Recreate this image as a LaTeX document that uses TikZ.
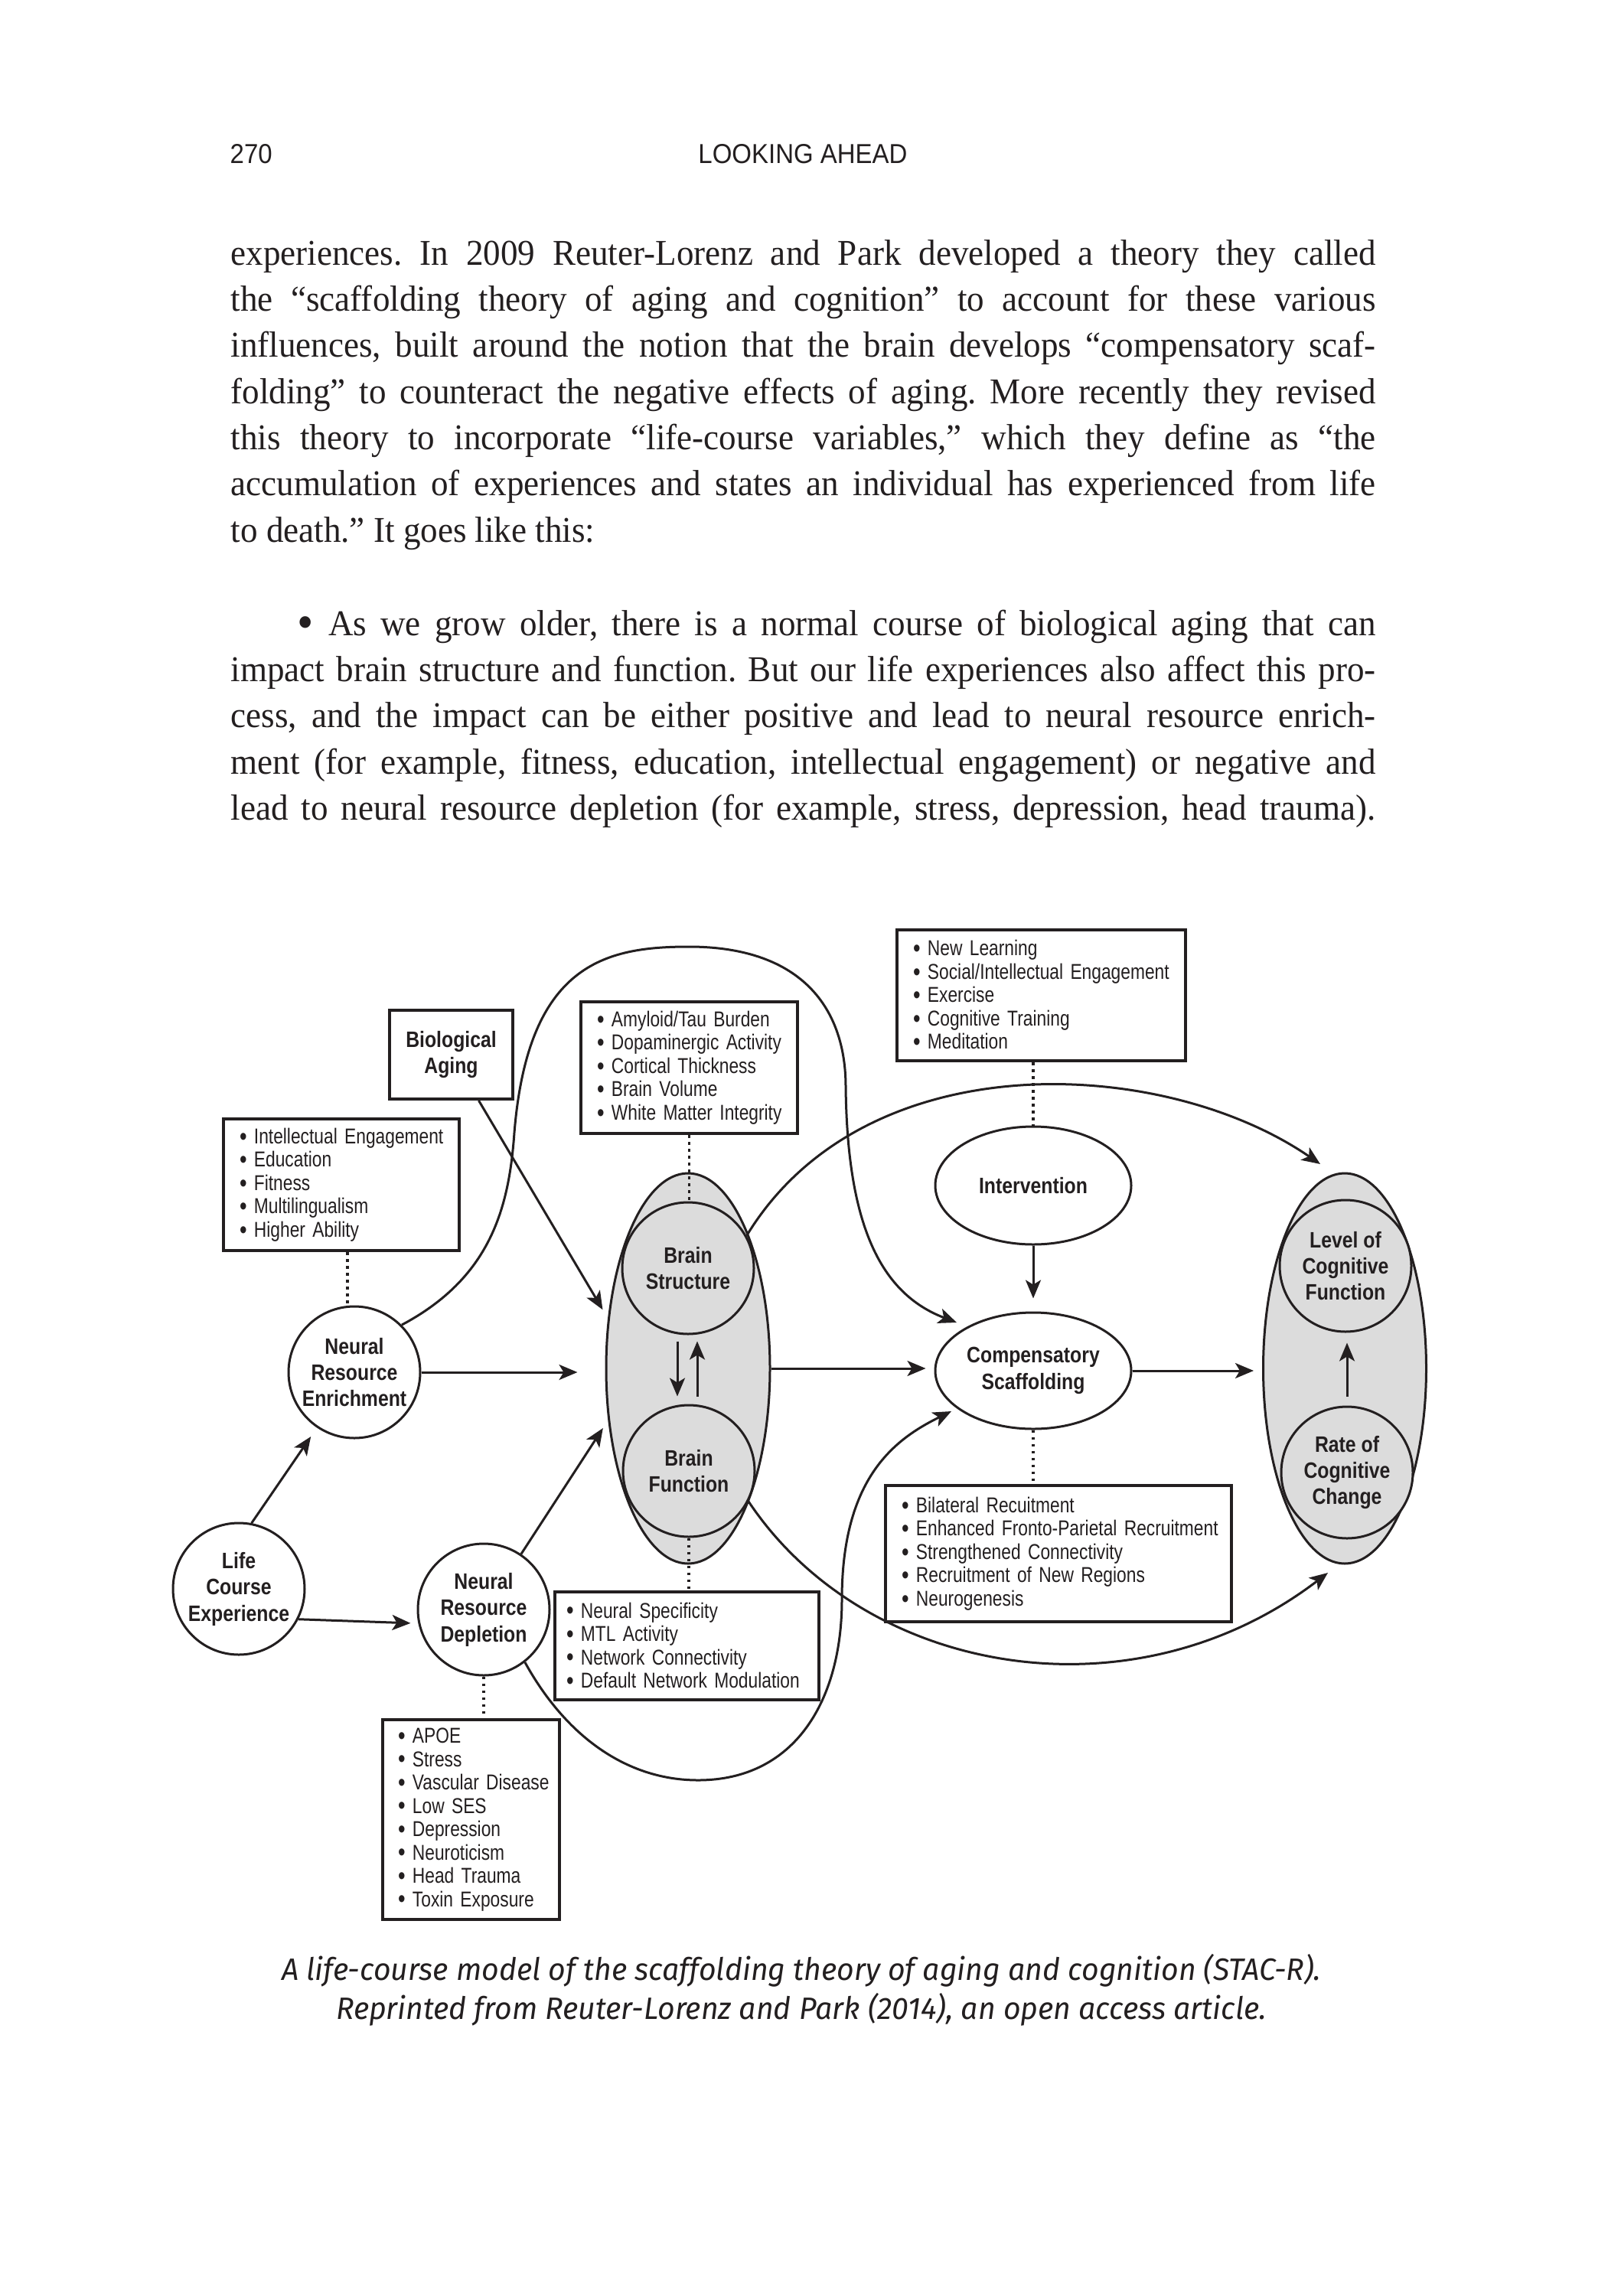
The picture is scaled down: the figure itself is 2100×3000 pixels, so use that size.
\documentclass[tikz,border=0pt]{standalone}
\usepackage{fontspec}
\setmainfont{Liberation Serif}
\newfontfamily\bodyfont[FakeStretch=0.95]{Liberation Serif}
\newfontfamily\condfont[FakeStretch=0.81]{Liberation Sans}
\newfontfamily\boldcond[FakeStretch=0.85]{Liberation Sans}
\newfontfamily\headfont[FakeStretch=0.92]{Liberation Sans}
\newfontfamily\capfont[FakeStretch=0.97]{Fira Sans}
\usetikzlibrary{shapes.geometric,arrows.meta,calc}
\definecolor{ink}{RGB}{35,31,32}
\definecolor{shade}{RGB}{220,220,220}
\newcommand\lsitem[1]{\mbox{\raisebox{-0.12ex}{\scalebox{1.2}{•}}\ #1}}
\frenchspacing
\begin{document}
\begin{tikzpicture}[x=0.1mm,y=-0.1mm,
  txt/.style={inner sep=0pt, text=ink},
  body/.style={txt, anchor=base west, font=\bodyfont\fontsize{13.5}{16}\selectfont},
  circ/.style={circle, draw=ink, line width=0.3mm, minimum size=17.2mm, inner sep=0pt,
     align=center, text=ink, font=\boldcond\bfseries\fontsize{8.3}{9.8}\selectfont},
  oval/.style={ellipse, draw=ink, line width=0.3mm, inner sep=0pt,
     align=center, text=ink, font=\boldcond\bfseries\fontsize{8.3}{9.8}\selectfont},
  listbox/.style={rectangle, draw=ink, line width=0.4mm, inner xsep=2.1mm, inner ysep=0pt,
     align=left, text=ink, fill=white, font=\condfont\fontsize{8}{8.68}\selectfont},
  titlebox/.style={rectangle, draw=ink, line width=0.4mm, inner sep=0pt,
     align=center, text=ink, font=\boldcond\bfseries\fontsize{8.3}{9.8}\selectfont},
  arr/.style={draw=ink, line width=0.3mm, -{Stealth[length=2.4mm,width=2.0mm,inset=0.6mm]}},
  dotline/.style={draw=ink, line width=0.35mm, dash pattern=on 0.35mm off 0.55mm}
]
\useasboundingbox[fill=white] (0,0) rectangle (2100,3000);

% ---------- header ----------
\node[txt, anchor=base west, font=\headfont\fontsize{10.2}{12}\selectfont] (pg) at (300,214) {270};
\node[txt, anchor=base, font=\headfont\fontsize{10.2}{12}\selectfont] (hd) at (1049,214) {LOOKING AHEAD};

% ---------- body text ----------
\node[body] (b1) at (301,347) {\makebox[149.6mm][s]{experiences. In 2009 Reuter-Lorenz and Park developed a theory they called}};
\node[body] (b2) at (301,407) {\makebox[149.6mm][s]{the “scaffolding theory of aging and cognition” to account for these various}};
\node[body] (b3) at (301,467) {\makebox[149.6mm][s]{influences, built around the notion that the brain develops “compensatory scaf-}};
\node[body] (b4) at (301,528) {\makebox[149.6mm][s]{folding” to counteract the negative effects of aging. More recently they revised}};
\node[body] (b5) at (301,588) {\makebox[149.6mm][s]{this theory to incorporate “life-course variables,” which they define as “the}};
\node[body] (b6) at (301,648) {\makebox[149.6mm][s]{accumulation of experiences and states an individual has experienced from life}};
\node[body] (b7) at (301,708) {to death.” It goes like this:};
\node[body] (b8) at (388,830) {\makebox[140.9mm][s]{\raisebox{-0.2ex}{\scalebox{1.35}{•}}\hspace{1.9mm}As we grow older, there is a normal course of biological aging that can}};
\node[body] (b9) at (301,890) {\makebox[149.6mm][s]{impact brain structure and function. But our life experiences also affect this pro-}};
\node[body] (b10) at (301,950) {\makebox[149.6mm][s]{cess, and the impact can be either positive and lead to neural resource enrich-}};
\node[body] (b11) at (301,1011) {\makebox[149.6mm][s]{ment (for example, fitness, education, intellectual engagement) or negative and}};
\node[body] (b12) at (301,1071) {\makebox[149.6mm][s]{lead to neural resource depletion (for example, stress, depression, head trauma).}};

% ---------- big grey ellipses ----------
\node[ellipse, draw=ink, line width=0.3mm, fill=shade, minimum width=21.4mm, minimum height=51mm, inner sep=0pt] (bigL) at (899,1788) {};
\node[ellipse, draw=ink, line width=0.3mm, fill=shade, minimum width=21.3mm, minimum height=51mm, inner sep=0pt] (bigR) at (1757,1788) {};

% ---------- curve end points ----------
\coordinate (ct1) at (1250,1728);
\coordinate (ct2) at (1725,1521);
\coordinate (ct3) at (1735,2055);
\coordinate (ct4) at (1243,1844);

% ---------- circles and ovals ----------
\node[circ, fill=shade] (bs) at (899,1657) {Brain\\Structure};
\node[circ, fill=shade] (bf) at (900,1922) {Brain\\Function};
\node[circ, fill=shade] (lev) at (1758,1654) {Level of\\Cognitive\\Function};
\node[circ, fill=shade] (rate) at (1760,1924) {Rate of\\Cognitive\\Change};
\node[circ] (nre) at (463,1793) {Neural\\Resource\\Enrichment};
\node[circ] (lce) at (312,2076) {Life\\Course\\Experience};
\node[circ] (nrd) at (632,2103) {Neural\\Resource\\Depletion};
\node[oval, minimum width=25.6mm, minimum height=15.4mm] (inter) at (1350,1549) {Intervention};
\node[oval, minimum width=25.6mm, minimum height=15.2mm] (comp) at (1350,1791) {Compensatory\\Scaffolding};

% ---------- boxes ----------
\node[titlebox, minimum width=16.1mm, minimum height=11.6mm] (bio) at (589.5,1378) {Biological\\Aging};
\node[listbox, text width=26.6mm, minimum height=17.2mm] (enrL) at (446,1548)
  {\lsitem{Intellectual Engagement}\\\lsitem{Education}\\\lsitem{Fitness}\\\lsitem{Multilingualism}\\\lsitem{Higher Ability}};
\node[listbox, text width=24.1mm, minimum height=17.2mm] (brainL) at (900.5,1395)
  {\lsitem{Amyloid/Tau Burden}\\\lsitem{Dopaminergic Activity}\\\lsitem{Cortical Thickness}\\\lsitem{Brain Volume}\\\lsitem{White Matter Integrity}};
\node[listbox, text width=33.5mm, minimum height=17.1mm] (intL) at (1360.5,1300.5)
  {\lsitem{New Learning}\\\lsitem{Social/Intellectual Engagement}\\\lsitem{Exercise}\\\lsitem{Cognitive Training}\\\lsitem{Meditation}};
\node[listbox, text width=41mm, minimum height=17.8mm] (compL) at (1383,2030)
  {\lsitem{Bilateral Recuitment}\\\lsitem{Enhanced Fronto-Parietal Recruitment}\\\lsitem{Strengthened Connectivity}\\\lsitem{Recruitment of New Regions}\\\lsitem{Neurogenesis}};
\node[listbox, inner xsep=1.5mm, text width=31.5mm, minimum height=14.1mm] (netL) at (897.5,2150.5)
  {\lsitem{Neural Specificity}\\\lsitem{MTL Activity}\\\lsitem{Network Connectivity}\\\lsitem{Default Network Modulation}};
\node[listbox, inner xsep=2mm, text width=19.1mm, minimum height=26.1mm] (riskL) at (615.5,2377.5)
  {\lsitem{APOE}\\\lsitem{Stress}\\\lsitem{Vascular Disease}\\\lsitem{Low SES}\\\lsitem{Depression}\\\lsitem{Neuroticism}\\\lsitem{Head Trauma}\\\lsitem{Toxin Exposure}};

% ---------- dotted links ----------
\draw[dotline] ([xshift=0.8mm]enrL.south) -- ([xshift=0.8mm]enrL.south |- nre.north);
\draw[dotline] (brainL.south) -- (brainL.south |- bs.north);
\draw[dotline] (intL.south -| inter.north) -- (inter.north);
\draw[dotline] (comp.south) -- (comp.south |- compL.north);
\draw[dotline] (bf.south) -- (bf.south |- netL.north);
\draw[dotline] (nrd.south) -- (nrd.south |- riskL.north);

% ---------- straight arrows ----------
\draw[arr, shorten >=1.4mm] (lce.79) -- (nre.236);
\draw[arr, shorten >=1mm] (lce.-27) -- (nrd.192);
\draw[arr, shorten >=1.2mm] (nrd.56) -- (bigL.213);
\draw[arr, shorten >=1.3mm] ([xshift=3.6mm]bio.south) -- (bigL.148);
\draw[arr, shorten >=3.6mm] (nre.east) -- (nre.east -| bigL.west);
\draw[arr, shorten >=1.1mm] (bigL.east) -- (bigL.east -| comp.west);
\draw[arr, shorten >=1.1mm] (comp.east) -- (comp.east -| bigR.west);
\draw[arr, shorten >=1.7mm] (inter.south) -- (comp.north);
\draw[arr, shorten <=0.8mm, shorten >=1mm] ([xshift=-1.4mm]bs.south) -- ([xshift=-1.4mm]bs.south |- bf.north);
\draw[arr, shorten <=1mm, shorten >=0.8mm] ([xshift=1.2mm]bf.north -| bs.south) -- ([xshift=1.2mm]bs.south);
\draw[arr, shorten <=1.2mm, shorten >=1.3mm] (rate.north) -- (rate.north |- lev.south);

% ---------- curved arrows ----------
\draw[arr] (nre.45) .. controls (640,1670) and (665,1580) .. (672,1480)
   .. controls (690,1260) and (790,1237) .. (900,1237)
   .. controls (1050,1237) and (1105,1320) .. (1105,1420)
   .. controls (1107,1600) and (1150,1690) .. (ct1);
\draw[arr] (bs.29) .. controls (1130,1360) and (1520,1380) .. (ct2);
\draw[arr] (bf.-27) .. controls (1130,2190) and (1480,2250) .. (ct3);
\draw[arr] (nrd.-52) .. controls (740,2270) and (820,2326) .. (912,2326)
   .. controls (1040,2326) and (1100,2220) .. (1100,2090)
   .. controls (1100,1930) and (1170,1880) .. (ct4);

% ---------- caption ----------
\node[txt, anchor=base, font=\capfont\itshape\fontsize{11.5}{13}\selectfont] (cap1) at (1047,2587)
  {A life-course model of the scaffolding theory of aging and cognition (STAC-R).};
\node[txt, anchor=base, font=\capfont\itshape\fontsize{11.5}{13}\selectfont] (cap2) at (1047,2638)
  {Reprinted from Reuter-Lorenz and Park (2014), an open access article.};
\end{tikzpicture}
\end{document}
